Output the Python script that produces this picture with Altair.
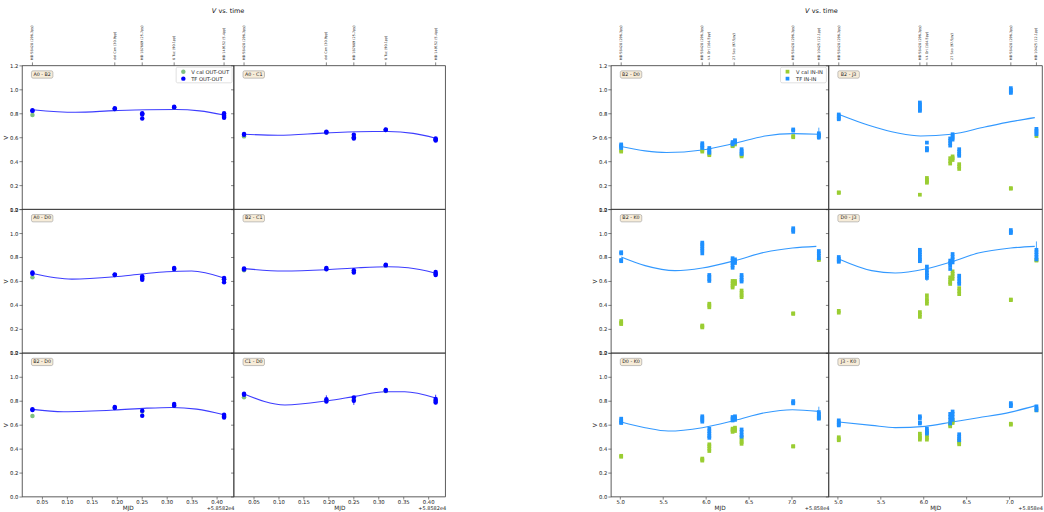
import altair as alt
import pandas as pd

FONT = "DejaVu Sans"
Y_TICKS = [0.0, 0.2, 0.4, 0.6, 0.8, 1.0, 1.2]

# ---------------- left figure (OUT-OUT), MJD - 58582 ----------------
L_TIMES = [0.031, 0.196, 0.251, 0.315, 0.415]
L_STARS = ["HD 58428 (296.3py)", "del Cen (30.9py)", "HD 187669 (25.7py)",
           "6 Tuc (90.1py)", "HD 149152 (5.4py)"]
L_XTICKS = [0.05, 0.10, 0.15, 0.20, 0.25, 0.30, 0.35, 0.40]

A0B2_TF = [[0.825, 0.82], [0.842, 0.835], [0.80, 0.79, 0.757], [0.855, 0.848], [0.80, 0.785, 0.77, 0.762]]
A0B2_CAL = [[0.786], [0.835], [0.795], [0.848], [0.78]]
A0B2_FIT_T = [0.031, 0.117, 0.196, 0.26, 0.319, 0.366, 0.415]
A0B2_FIT_V = [0.830, 0.808, 0.822, 0.830, 0.832, 0.820, 0.786]

A0C1_TF = [[0.627, 0.62], [0.645, 0.64], [0.62, 0.598, 0.59], [0.665, 0.66], [0.59, 0.58, 0.572]]
A0C1_CAL = [[0.607], [0.64], [0.60], [0.66], [0.58]]
A0C1_FIT_T = [0.031, 0.099, 0.196, 0.29, 0.32, 0.37, 0.415]
A0C1_FIT_V = [0.625, 0.617, 0.636, 0.648, 0.648, 0.632, 0.592]

A0D0_TF = [[0.67, 0.66], [0.655, 0.65], [0.64, 0.625, 0.61], [0.708, 0.70], [0.625, 0.615, 0.59]]
A0D0_CAL = [[0.63], [0.65], [0.62], [0.70], [0.615]]
A0D0_FIT_T = [0.031, 0.11, 0.196, 0.25, 0.30, 0.35, 0.415]
A0D0_FIT_V = [0.662, 0.615, 0.635, 0.658, 0.677, 0.683, 0.625]

B2C1_TF = [[0.705, 0.695], [0.708, 0.698], [0.69, 0.67], [0.735, 0.73], [0.675, 0.66, 0.65]]
B2C1_CAL = [[0.69], [0.70], [0.675], [0.73], [0.66]]
B2C1_FIT_T = [0.031, 0.11, 0.196, 0.26, 0.32, 0.36, 0.415]
B2C1_FIT_V = [0.703, 0.683, 0.694, 0.71, 0.718, 0.71, 0.665]

B2D0L_TF = [[0.728, 0.722], [0.748, 0.74], [0.717, 0.675], [0.772, 0.758], [0.683, 0.672, 0.66]]
B2D0L_CAL = [[0.672], [0.742], [0.71], [0.76], [0.67]]
B2D0L_FIT_T = [0.031, 0.093, 0.196, 0.26, 0.31, 0.36, 0.415]
B2D0L_FIT_V = [0.728, 0.708, 0.722, 0.738, 0.744, 0.73, 0.683]

C1D0_TF = [[0.858, 0.85], [0.812, 0.794], [0.828, 0.80], [0.889, 0.884], [0.815, 0.80, 0.786]]
C1D0_CAL = [[0.828], [0.80], [0.81], [0.88], [0.80]]
C1D0_ERR = [(0.196, 0.78, 0.845), (0.251, 0.765, 0.835), (0.415, 0.77, 0.85)]
C1D0_FIT_T = [0.031, 0.113, 0.199, 0.253, 0.313, 0.353, 0.415]
C1D0_FIT_V = [0.856, 0.764, 0.80, 0.836, 0.875, 0.875, 0.822]

# ---------------- right figure (IN-IN), MJD - 58580 ----------------
R_TIMES = [5.011, 5.958, 6.04, 6.312, 6.34, 6.417, 7.02, 7.319]
R_STAR_TIMES = [5.011, 5.958, 6.04, 6.33, 7.02, 7.319]
R_STARS = ["HD 58428 (296.3py)", "HD 58428 (296.3py)", "V4 Ori (164.5py)",
           "27 Sco (97.5py)", "HD 58428 (296.3py)", "HD 10425 (12.1py)"]
R_XTICKS = [5.0, 5.5, 6.0, 6.5, 7.0]

B2D0_TF = [[0.54, 0.53, 0.52, 0.51], [0.55, 0.535, 0.52, 0.51], [0.51, 0.495, 0.48, 0.47],
           [0.56, 0.55, 0.54], [0.575, 0.565, 0.555], [0.50, 0.485, 0.47, 0.46],
           [0.665, 0.655], [0.633, 0.62, 0.61, 0.597]]
B2D0_CAL = [[0.49, 0.48], [0.49, 0.48], [0.46, 0.45], [0.53, 0.525], [0.54],
            [0.45, 0.44], [0.61, 0.60], [0.61]]
B2D0_ERR = [(7.319, 0.58, 0.68)]
B2D0_FIT_T = [5.011, 5.29, 5.54, 5.958, 6.34, 6.69, 7.02, 7.319]
B2D0_FIT_V = [0.522, 0.486, 0.472, 0.494, 0.55, 0.61, 0.63, 0.625]

B2J3_TF = [[0.79, 0.775, 0.76, 0.75], [0.89, 0.875, 0.86, 0.845, 0.83, 0.82],
           [0.555, 0.51, 0.50, 0.49], [0.59, 0.57, 0.55, 0.53], [0.625, 0.61, 0.595, 0.58],
           [0.50, 0.48, 0.46, 0.445], [1.01, 0.995, 0.98, 0.97], [0.67, 0.655, 0.64, 0.625]]
B2J3_CAL = [[0.14, 0.135], [0.12], [0.26, 0.245, 0.23, 0.22], [0.425, 0.40, 0.38],
            [0.44, 0.425, 0.41], [0.375, 0.355, 0.335], [0.175, 0.17], [0.61]]
B2J3_FIT_T = [5.015, 5.36, 5.70, 5.966, 6.327, 6.716, 7.019, 7.30]
B2J3_FIT_V = [0.79, 0.70, 0.635, 0.61, 0.625, 0.685, 0.73, 0.764]

B2K0_TF = [[0.84, 0.83, 0.775, 0.765], [0.92, 0.905, 0.89, 0.87, 0.855, 0.83],
           [0.65, 0.635, 0.615, 0.60], [0.79, 0.77, 0.75, 0.73, 0.71], [0.78, 0.765, 0.75],
           [0.65, 0.63, 0.61, 0.595], [1.04, 1.025, 1.01], [0.85, 0.83, 0.81, 0.79]]
B2K0_CAL = [[0.265, 0.25, 0.24], [0.228, 0.22, 0.212], [0.41, 0.395, 0.38],
            [0.60, 0.58, 0.56, 0.545], [0.60, 0.585, 0.575], [0.52, 0.50, 0.48, 0.465],
            [0.33, 0.325], [0.78, 0.775]]
B2K0_FIT_T = [5.011, 5.29, 5.64, 5.958, 6.34, 6.69, 7.011, 7.29]
B2K0_FIT_V = [0.80, 0.728, 0.686, 0.708, 0.77, 0.84, 0.875, 0.889]

D0J3_TF = [[0.80, 0.785, 0.77, 0.76], [0.86, 0.84, 0.82, 0.80, 0.78, 0.765],
           [0.72, 0.69, 0.665, 0.645, 0.625], [0.77, 0.75, 0.73, 0.70],
           [0.825, 0.80, 0.78, 0.755], [0.644, 0.62, 0.595, 0.575], [1.025, 1.01, 1.0],
           [0.86, 0.84, 0.82, 0.80, 0.78]]
D0J3_CAL = [[0.35, 0.335], [0.34, 0.32, 0.30], [0.48, 0.45, 0.43, 0.41], [0.63, 0.61, 0.59, 0.575],
            [0.68, 0.66, 0.64, 0.617], [0.54, 0.515, 0.49], [0.445, 0.44], [0.775, 0.77]]
D0J3_ERR = [(7.319, 0.76, 0.93), (6.04, 0.60, 0.73)]
D0J3_FIT_T = [5.011, 5.395, 5.67, 6.02, 6.33, 6.64, 7.02, 7.30]
D0J3_FIT_V = [0.783, 0.686, 0.667, 0.70, 0.76, 0.833, 0.875, 0.889]

D0K0_TF = [[0.65, 0.635, 0.62, 0.614], [0.67, 0.655, 0.64, 0.625], [0.567, 0.545, 0.525, 0.505, 0.49],
           [0.664, 0.65, 0.635], [0.67, 0.655, 0.64], [0.56, 0.54, 0.515, 0.50],
           [0.797, 0.785, 0.778], [0.705, 0.69, 0.675, 0.66, 0.65]]
D0K0_CAL = [[0.34, 0.332], [0.317, 0.308, 0.30], [0.436, 0.42, 0.40, 0.38], [0.567, 0.555, 0.54],
            [0.575, 0.56, 0.547], [0.49, 0.47, 0.455, 0.44], [0.42, 0.418], [0.665, 0.655]]
D0K0_ERR = [(7.319, 0.64, 0.75)]
D0K0_FIT_T = [5.011, 5.29, 5.56, 5.958, 6.34, 6.69, 7.011, 7.319]
D0K0_FIT_V = [0.622, 0.575, 0.547, 0.575, 0.636, 0.70, 0.725, 0.711]

J3K0_TF = [[0.636, 0.62, 0.605, 0.594], [0.67, 0.655, 0.62, 0.61], [0.567, 0.55, 0.535, 0.525],
           [0.69, 0.665, 0.64, 0.61], [0.71, 0.69, 0.665, 0.64], [0.52, 0.50, 0.485, 0.47],
           [0.78, 0.765, 0.755], [0.753, 0.735, 0.72]]
J3K0_CAL = [[0.495, 0.48, 0.47], [0.525, 0.505, 0.49, 0.475], [0.51, 0.49, 0.475],
            [0.614, 0.60, 0.586], [0.636, 0.625, 0.614], [0.464, 0.45, 0.436],
            [0.608, 0.60], [0.72]]
J3K0_FIT_T = [5.011, 5.395, 5.67, 6.02, 6.33, 6.64, 7.02, 7.32]
J3K0_FIT_V = [0.622, 0.594, 0.575, 0.586, 0.622, 0.658, 0.705, 0.761]

LEFT_FIG = dict(
    times=L_TIMES, star_times=L_TIMES, stars=L_STARS,
    widths=[212, 212], domains=[[0.010, 0.434], [0.010, 0.434]],
    xticks=L_XTICKS, xfmt=".2f", offset="+5.8582e4",
    cal="#80c080", tf="#0000ff", fit="#3d3dff", shape="circle", size=20,
    leg=["V cal OUT-OUT", "TF OUT-OUT"], leg_box=[154.5, 210.5], leg_mark=161.7, leg_text=169.5,
    title_x=194.5,
    panels=[[("A0 - B2", A0B2_TF, A0B2_CAL, A0B2_FIT_T, A0B2_FIT_V, []),
             ("A0 - C1", A0C1_TF, A0C1_CAL, A0C1_FIT_T, A0C1_FIT_V, [])],
            [("A0 - D0", A0D0_TF, A0D0_CAL, A0D0_FIT_T, A0D0_FIT_V, []),
             ("B2 - C1", B2C1_TF, B2C1_CAL, B2C1_FIT_T, B2C1_FIT_V, [])],
            [("B2 - D0", B2D0L_TF, B2D0L_CAL, B2D0L_FIT_T, B2D0L_FIT_V, []),
             ("C1 - D0", C1D0_TF, C1D0_CAL, C1D0_FIT_T, C1D0_FIT_V, C1D0_ERR)]],
)

RIGHT_FIG = dict(
    times=R_TIMES, star_times=R_STAR_TIMES, stars=R_STARS,
    widths=[218, 214], domains=[[4.890, 7.431], [4.890, 7.384]],
    xticks=R_XTICKS, xfmt=".1f", offset="+5.858e4",
    cal="#9acd32", tf="#1e90ff", fit="#3399ff", shape="square", size=14,
    leg=["V cal IN-IN", "TF IN-IN"], leg_box=[170, 216], leg_mark=177, leg_text=185.5,
    title_x=199,
    panels=[[("B2 - D0", B2D0_TF, B2D0_CAL, B2D0_FIT_T, B2D0_FIT_V, B2D0_ERR),
             ("B2 - J3", B2J3_TF, B2J3_CAL, B2J3_FIT_T, B2J3_FIT_V, [])],
            [("B2 - K0", B2K0_TF, B2K0_CAL, B2K0_FIT_T, B2K0_FIT_V, []),
             ("D0 - J3", D0J3_TF, D0J3_CAL, D0J3_FIT_T, D0J3_FIT_V, D0J3_ERR)],
            [("D0 - K0", D0K0_TF, D0K0_CAL, D0K0_FIT_T, D0K0_FIT_V, D0K0_ERR),
             ("J3 - K0", J3K0_TF, J3K0_CAL, J3K0_FIT_T, J3K0_FIT_V, [])]],
)

H = 144
ONE = pd.DataFrame({"k": [0]})


def stacks_df(times, stacks):
    return pd.DataFrame([{"t": t, "v": v} for t, vs in zip(times, stacks) for v in vs])


def make_panel(fig, row, col):
    name, tf, cal, fit_t, fit_v, errs = fig["panels"][row][col]
    w = fig["widths"][col]
    xs = alt.Scale(domain=fig["domains"][col], nice=False, zero=False)
    ys = alt.Scale(domain=[0, 1.2], nice=False, zero=False)
    if row == 2:
        xax = alt.Axis(values=fig["xticks"], format=fig["xfmt"], title="MJD",
                       labelFlush=False, labelOverlap=False, tickSize=2.5,
                       labelPadding=0.5, titlePadding=0)
    else:
        xax = None
    if col == 0:
        yax = alt.Axis(values=Y_TICKS, format=".1f", title="V", labelFlush=False,
                       labelOverlap=False, tickSize=3, labelPadding=1, titlePadding=1)
    else:
        yax = alt.Axis(values=Y_TICKS, labels=False, title=None, tickSize=3)
    X = alt.X("t:Q", scale=xs, axis=xax)
    Y = alt.Y("v:Q", scale=ys, axis=yax)

    layers = []
    layers.append(alt.Chart(pd.DataFrame({"t": fit_t, "v": fit_v})).mark_line(
        color=fig["fit"], strokeWidth=1.1, interpolate="monotone").encode(x=X, y=Y))
    if errs:
        edf = pd.DataFrame(errs, columns=["t", "lo", "hi"])
        layers.append(alt.Chart(edf).mark_rule(color=fig["tf"], strokeWidth=0.8).encode(
            x=X, y=alt.Y("lo:Q", scale=ys, axis=yax), y2="hi:Q"))
    layers.append(alt.Chart(stacks_df(fig["times"], cal)).mark_point(
        filled=True, shape=fig["shape"], size=fig["size"], color=fig["cal"], opacity=1).encode(x=X, y=Y))
    layers.append(alt.Chart(stacks_df(fig["times"], tf)).mark_point(
        filled=True, shape=fig["shape"], size=fig["size"], color=fig["tf"], opacity=1).encode(x=X, y=Y))

    # baseline name box
    layers.append(alt.Chart(ONE).mark_rect(
        fill="#f7ecd8", stroke="#9a9a9a", strokeWidth=0.6, cornerRadius=1.5).encode(
        x=alt.value(9.5), x2=alt.value(31), y=alt.value(5.5), y2=alt.value(12.8)))
    layers.append(alt.Chart(ONE).mark_text(
        text=name, font=FONT, fontSize=4.8, color="#222", align="center", baseline="middle").encode(
        x=alt.value(20.2), y=alt.value(9.3)))

    if row == 0:
        sdf = pd.DataFrame({"t": fig["star_times"], "s": fig["stars"]})
        layers.append(alt.Chart(sdf).mark_rule(color="#333", strokeWidth=0.6).encode(
            x=X, y=alt.value(-3), y2=alt.value(0)))
        layers.append(alt.Chart(sdf).mark_text(
            font=FONT, fontSize=3.4, color="#222", angle=270, align="left", baseline="middle").encode(
            x=X, y=alt.value(-5.5), text="s:N"))
    if row == 0 and col == 0:
        tx = fig["title_x"]
        layers.append(alt.Chart(ONE).mark_text(
            text="V", font=FONT, fontSize=6.5, fontStyle="italic", color="#111",
            align="right", baseline="middle").encode(x=alt.value(tx), y=alt.value(-54)))
        layers.append(alt.Chart(ONE).mark_text(
            text="vs. time", font=FONT, fontSize=6.5, color="#111",
            align="left", baseline="middle").encode(x=alt.value(tx + 2.3), y=alt.value(-54)))
        b0, b1 = fig["leg_box"]
        layers.append(alt.Chart(ONE).mark_rect(
            fill="white", stroke="#cccccc", strokeWidth=0.6, cornerRadius=1.5).encode(
            x=alt.value(b0), x2=alt.value(b1), y=alt.value(1.8), y2=alt.value(17.5)))
        for i, (lab, colr) in enumerate(zip(fig["leg"], [fig["cal"], fig["tf"]])):
            yy = 6.3 + 7.0 * i
            layers.append(alt.Chart(ONE).mark_point(
                filled=True, shape=fig["shape"], size=fig["size"], color=colr, opacity=1).encode(
                x=alt.value(fig["leg_mark"]), y=alt.value(yy)))
            layers.append(alt.Chart(ONE).mark_text(
                text=lab, font=FONT, fontSize=5.2, color="#222", align="left", baseline="middle").encode(
                x=alt.value(fig["leg_text"]), y=alt.value(yy)))
    if row == 2:
        layers.append(alt.Chart(ONE).mark_text(
            text=fig["offset"], font=FONT, fontSize=5.0, color="#222", align="right",
            baseline="middle").encode(x=alt.value(w + 1), y=alt.value(H + 11)))

    return alt.layer(*layers).properties(width=w, height=H)


def make_figure(fig):
    panels = [make_panel(fig, r, c) for r in range(3) for c in range(2)]
    return alt.concat(*panels, columns=2, spacing=0, bounds="flush").resolve_scale(
        x="independent", y="independent")


chart = alt.hconcat(make_figure(LEFT_FIG), make_figure(RIGHT_FIG), spacing=144).resolve_scale(
    x="independent", y="independent"
).properties(
    padding={"left": 2, "top": 7, "right": 0, "bottom": 0}, background="white"
).configure_view(
    stroke="#333333", strokeWidth=0.8
).configure_axis(
    grid=False, domain=False, labelFont=FONT, titleFont=FONT, labelFontSize=5.3,
    titleFontSize=5.8, titleFontWeight="normal", labelColor="#222", titleColor="#222",
    tickColor="#333", tickWidth=0.6
)

chart.save("out.html", embed_options={"renderer": "svg", "actions": False})
